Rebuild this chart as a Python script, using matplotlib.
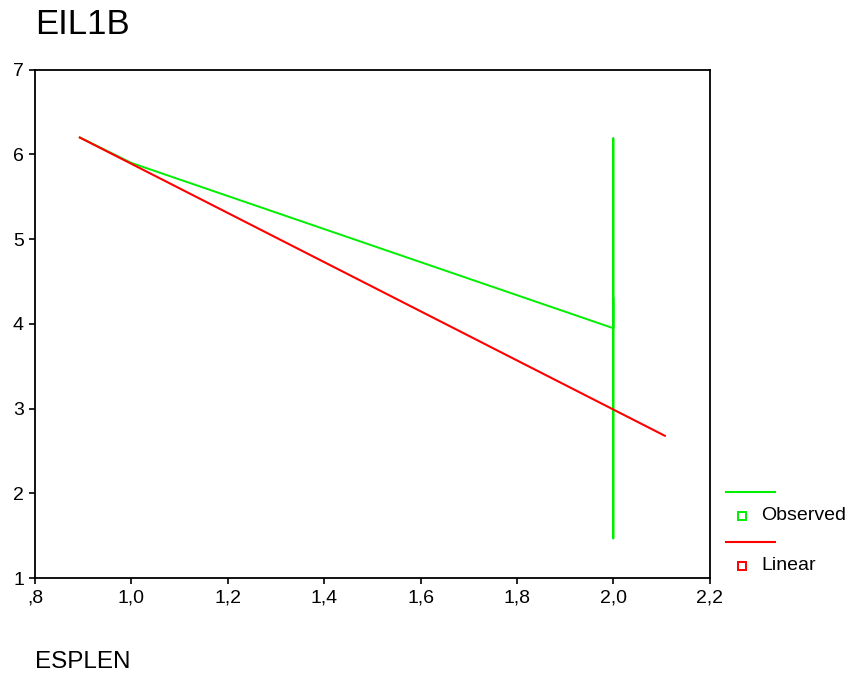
import matplotlib
matplotlib.use("Agg")
import matplotlib.pyplot as plt
from matplotlib.lines import Line2D
from matplotlib.ticker import FuncFormatter

plt.rcParams['font.family'] = ['Liberation Sans', 'DejaVu Sans']

# observed values (path as SPSS draws it, sorted by x)
obs_x = [0.893, 1.0, 2.0, 2.0, 2.0, 2.0]
obs_y = [6.2, 5.9, 3.95, 6.19, 1.47, 4.3]

# linear fit, drawn over the x range
lin_x = [0.893, 2.107]
lin_y = [6.2, 2.68]

x_ticks = [0.8, 1.0, 1.2, 1.4, 1.6, 1.8, 2.0, 2.2]
y_ticks = [1, 2, 3, 4, 5, 6, 7]

fig = plt.figure(figsize=(8.54, 6.77), dpi=100)
ax = fig.add_axes([0.041, 0.146, 0.790, 0.751])

green = '#00ee00'
red = '#ff0000'
ax.plot(obs_x, obs_y, color=green, lw=1.4)
ax.plot(lin_x, lin_y, color=red, lw=1.5)

ax.set_xlim(0.8, 2.2)
ax.set_ylim(1, 7)
ax.set_xticks(x_ticks)
ax.set_yticks(y_ticks)

def comma_fmt(v, pos):
    s = f"{v:.1f}".replace('.', ',')
    if s.startswith('0'):
        s = s[1:]
    return s

ax.xaxis.set_major_formatter(FuncFormatter(comma_fmt))
ax.tick_params(direction='out', length=4, width=1.2, labelsize=14, pad=4)
for sp in ax.spines.values():
    sp.set_linewidth(1.3)

fig.text(0.041, 1 - 25 / 677, 'EIL1B', fontsize=25, ha='left', va='center')
fig.text(0.041, 1 - 662 / 677, 'ESPLEN', fontsize=17.5, ha='left', va='center')

# legend drawn outside the plot on the right
def leg_entry(y_line, y_mark, color, label):
    fig.add_artist(Line2D([0.850, 0.908], [y_line, y_line], color=color, lw=1.5,
                          transform=fig.transFigure))
    fig.add_artist(Line2D([0.869], [y_mark], marker='s', markersize=5.5, mfc='none',
                          mec=color, mew=1.4, ls='none', transform=fig.transFigure))
    fig.text(0.891, y_mark, label, fontsize=14, ha='left', va='center')

leg_entry(1 - 492 / 677, 1 - 516 / 677, green, 'Observed')
leg_entry(1 - 542 / 677, 1 - 566 / 677, red, 'Linear')

fig.savefig('out.png', dpi=100)
